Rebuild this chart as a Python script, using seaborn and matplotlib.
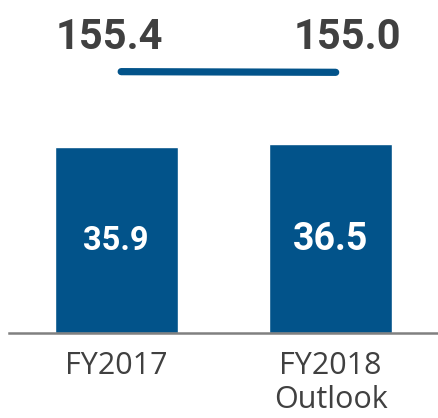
import matplotlib
matplotlib.use("Agg")
import matplotlib.pyplot as plt
import seaborn as sns
import pandas as pd

categories = ["FY2017", "FY2018\nOutlook"]
bar_values = [35.9, 36.5]
line_values = [155.4, 155.0]
bar_labels = ["35.9", "36.5"]
top_labels = ["155.4", "155.0"]

BAR_COLOR = "#02538a"
TEXT_GRAY = "#404040"
NARROW = ["Roboto", "DejaVu Sans"]

sns.set_theme(style="white")
plt.rcParams["font.family"] = ["Open Sans", "DejaVu Sans"]

fig = plt.figure(figsize=(4.38, 4.18), dpi=100)
ax = fig.add_axes([9 / 438, 85 / 418, 429 / 438, 333 / 418])

df = pd.DataFrame({"cat": categories, "val": bar_values})
sns.barplot(data=df, x="cat", y="val", color=BAR_COLOR, width=0.572,
            saturation=1, ax=ax)
ax.set_xlim(-0.5, 1.5)
ax.set_ylim(0, 64.3)

sizes = [23.5, 27]
for i, (v, lab) in enumerate(zip(bar_values, bar_labels)):
    ax.annotate(lab, (i, v / 2), xytext=(0, -1), textcoords="offset points",
                ha="center", va="center", color="white", fontsize=sizes[i],
                fontweight="bold", family=NARROW)

# top labels
top_x = [-0.03, 1.08]
for x, lab in zip(top_x, top_labels):
    ax.text(x, 54.8, lab, ha="center", va="baseline", fontsize=30,
            fontweight="bold", color=TEXT_GRAY, family=NARROW)

# line on secondary scale
ax2 = ax.twinx()
ax2.set_ylim(0, 198)
sns.lineplot(x=[0.023, 1.023], y=line_values, color=BAR_COLOR, linewidth=5.2,
             ax=ax2, solid_capstyle="round")
ax2.set_xlim(-0.5, 1.5)
ax2.axis("off")

ax.set_xlabel("")
ax.set_ylabel("")
ax.set_yticks([])
for s in ["top", "left", "right"]:
    ax.spines[s].set_visible(False)
ax.spines["bottom"].set_color("#808080")
ax.spines["bottom"].set_linewidth(1.8)
ax.tick_params(axis="x", length=0, pad=13, labelsize=22, labelcolor=TEXT_GRAY)
for t in ax.get_xticklabels():
    t.set_linespacing(1.15)

fig.savefig("out.png", dpi=100)
